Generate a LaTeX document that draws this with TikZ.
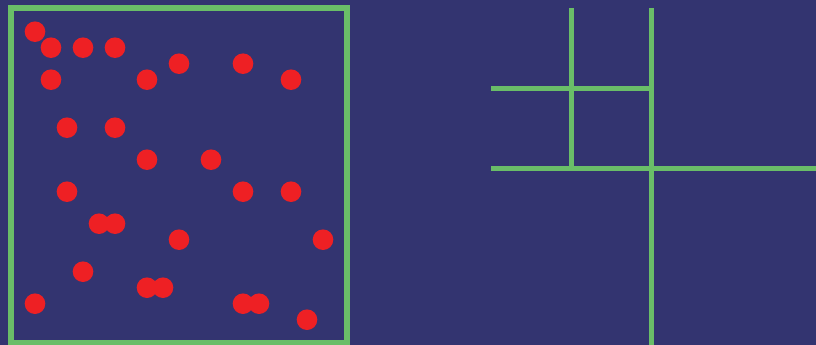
\documentclass[tikz,border=0pt]{standalone}
\definecolor{bgblue}{RGB}{51,52,112}
\definecolor{linegreen}{RGB}{106,189,104}
\definecolor{dotred}{RGB}{238,32,36}
\tikzset{
  frame/.style={draw=linegreen, line width=5.5pt},
  gridline/.style={draw=linegreen, line width=5pt},
  dot/.style={fill=dotred},
}
\begin{document}
\begin{tikzpicture}[x=1pt,y=-1pt]
\fill[bgblue] (0,0) rectangle (816,345);
\useasboundingbox (0,0) rectangle (816,345);
% left frame
\draw[frame] (11,8) rectangle (347,343);
% dots
\foreach \x/\y in {35/31.7, 51/47.7, 83/47.7, 115/47.7, 51/79.7, 147/79.7, 179/63.7, 243/63.7, 291/79.7,
  67/127.7, 115/127.7, 147/159.7, 211/159.7, 67/191.7, 243/191.7, 291/191.7,
  99/223.7, 115/223.7, 179/239.7, 323/239.7, 83/271.7, 35/303.7, 147/287.7, 163/287.7,
  243/303.7, 259/303.7, 307/319.7}
  \fill[dot] (\x,\y) circle (10.3);
% right grid
\draw[gridline] (571,8) -- (571,168);
\draw[gridline] (651,8) -- (651,345);
\draw[gridline] (491,88) -- (651,88);
\draw[gridline] (491,168) -- (816,168);
\end{tikzpicture}
\end{document}
